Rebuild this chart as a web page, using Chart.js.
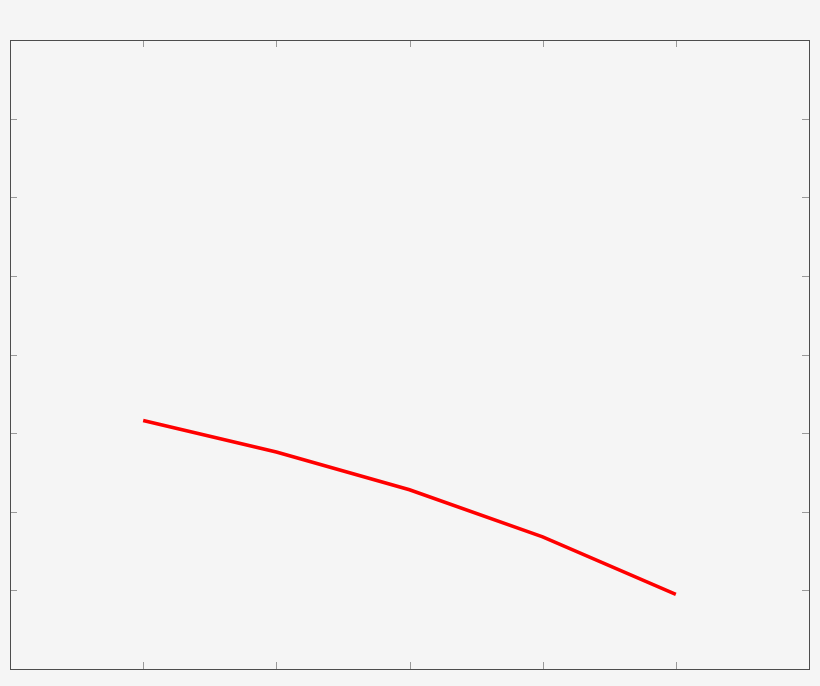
<!DOCTYPE html>
<html>
<head>
<meta charset="utf-8">
<script src="https://cdn.jsdelivr.net/npm/chart.js@4/dist/chart.umd.min.js"></script>
<style>
  html, body { margin: 0; padding: 0; background: #f5f5f5; }
  #wrap { width: 820px; height: 686px; }
</style>
</head>
<body>
<div id="wrap"><canvas id="chart"></canvas></div>
<script>
// values
const xValues = [1, 2, 3, 4, 5];
const yValues = [3.16, 2.76, 2.28, 1.68, 0.95];

const points = xValues.map((x, i) => ({ x: x, y: yValues[i] }));

// box round the plot with short inward ticks on all four sides
const frame = {
  id: 'frame',
  afterDraw(chart) {
    const { ctx, chartArea: a, scales } = chart;
    ctx.save();
    ctx.strokeStyle = '#999';
    ctx.lineWidth = 1;
    const len = 7;
    scales.x.ticks.forEach(t => {
      if (t.value <= scales.x.min || t.value >= scales.x.max) return;
      const px = Math.round(scales.x.getPixelForValue(t.value)) + 0.5;
      ctx.beginPath();
      ctx.moveTo(px, a.bottom); ctx.lineTo(px, a.bottom - len);
      ctx.moveTo(px, a.top); ctx.lineTo(px, a.top + len);
      ctx.stroke();
    });
    scales.y.ticks.forEach(t => {
      if (t.value <= scales.y.min || t.value >= scales.y.max) return;
      const py = Math.round(scales.y.getPixelForValue(t.value)) + 0.5;
      ctx.beginPath();
      ctx.moveTo(a.left, py); ctx.lineTo(a.left + len, py);
      ctx.moveTo(a.right, py); ctx.lineTo(a.right - len, py);
      ctx.stroke();
    });
    ctx.strokeStyle = '#4d4d4d';
    ctx.strokeRect(Math.round(a.left) + 0.5, Math.round(a.top) + 0.5,
      Math.round(a.right - a.left), Math.round(a.bottom - a.top));
    ctx.restore();
  }
};

const ctx = document.getElementById('chart').getContext('2d');
const chart = new Chart(ctx, {
  type: 'line',
  data: {
    datasets: [
      {
        data: points,
        borderColor: '#ff0000',
        borderWidth: 3.5,
        pointRadius: 0,
        tension: 0,
        fill: false,
      },
    ],
  },
  options: {
    responsive: true,
    maintainAspectRatio: false,
    animation: false,
    layout: { padding: { left: 10, top: 40, right: 11, bottom: 17 } },
    plugins: { legend: { display: false }, tooltip: { enabled: false } },
    scales: {
      x: {
        type: 'linear',
        min: 0,
        max: 6,
        ticks: { display: false, stepSize: 1 },
        grid: { display: false, drawTicks: false, tickLength: 0 },
        border: { display: false },
      },
      y: {
        min: 0,
        max: 8,
        ticks: { display: false, stepSize: 1 },
        grid: { display: false, drawTicks: false, tickLength: 0 },
        border: { display: false },
      },
    },
  },
  plugins: [frame],
});
</script>
</body>
</html>
